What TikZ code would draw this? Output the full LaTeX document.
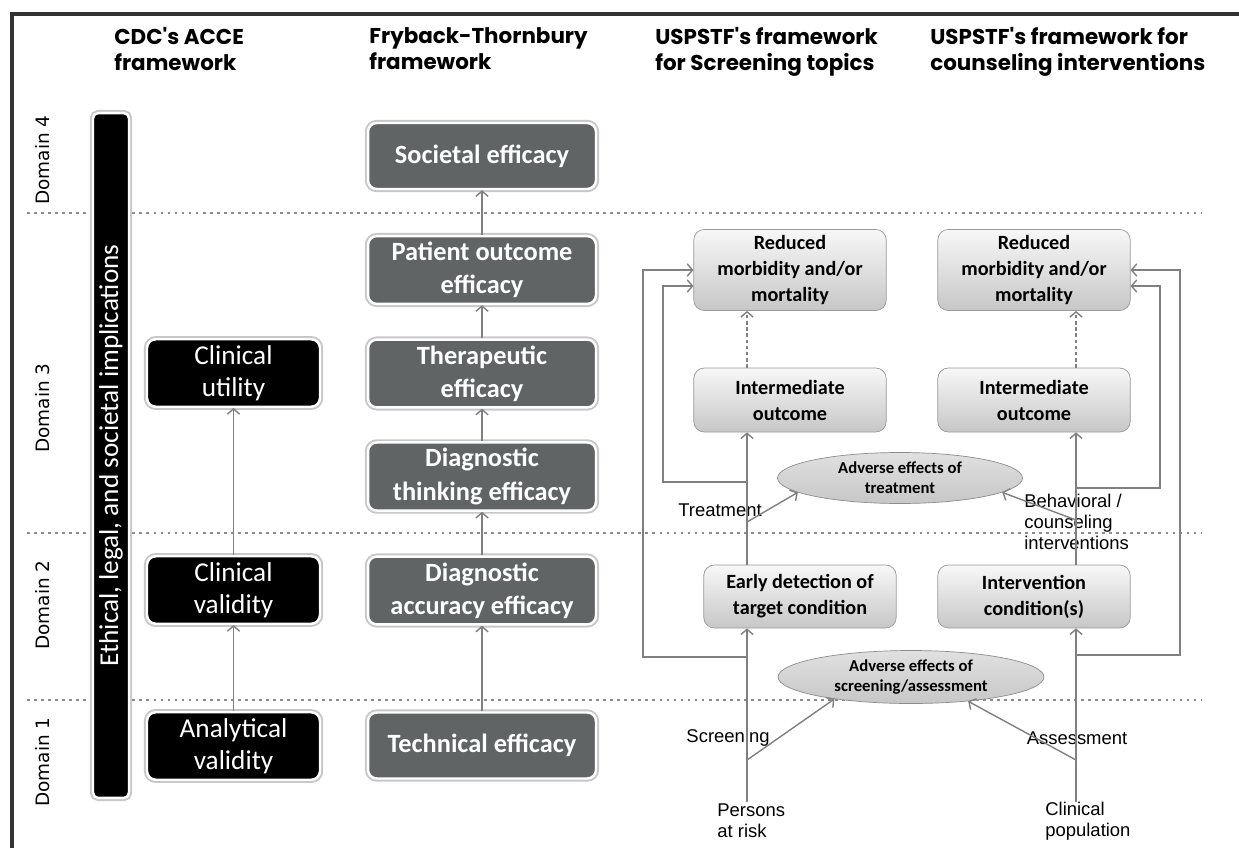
\documentclass[tikz,border=0pt]{standalone}
\usepackage{fontspec}
\setmainfont{Carlito}
\newfontfamily\headfont{Poppins}
\newfontfamily\labfont{Liberation Sans}
\newfontfamily\domfont{DejaVu Sans}
\usetikzlibrary{arrows.meta,shapes.geometric}
\definecolor{fbgray}{RGB}{97,100,100}
\definecolor{linegray}{RGB}{128,128,128}
\tikzset{
	rim/.style={preaction={draw=black!22,line width=3.6pt},draw=white,line width=1.4pt},
	head/.style={anchor=north west,inner sep=0pt,align=left,font=\headfont\bfseries\fontsize{12.2}{14.8}\selectfont},
	domlab/.style={rotate=90,inner sep=0pt,font=\domfont\fontsize{10.5}{12}\selectfont},
	sepline/.style={draw=black!45,line width=1.3pt,dash pattern=on 1.6pt off 2.4pt},
	accebox/.style={rim,rectangle,rounded corners=5pt,fill=black,text=white,align=center,minimum width=3.46cm,minimum height=1.32cm,font=\fontsize{15.5}{18.5}\selectfont},
	frybox/.style={rim,rectangle,rounded corners=5pt,fill=fbgray,text=white,align=center,minimum width=4.56cm,minimum height=1.32cm,font=\bfseries\fontsize{15}{19}\selectfont},
	uspbox/.style={rectangle,rounded corners=6pt,draw=black!40,top color=black!3,bottom color=black!22,align=center,minimum width=3.85cm,font=\bfseries\fontsize{11.5}{14.8}\selectfont},
	adverse/.style={ellipse,draw=black!45,top color=black!12,bottom color=black!22,inner sep=0pt,align=center,font=\bfseries\fontsize{9.5}{11.4}\selectfont},
	flowlab/.style={inner sep=0pt,align=left,font=\labfont\fontsize{10.5}{12}\selectfont},
	arr/.style={draw=linegray,line width=0.8pt,-{Straight Barb[length=3pt,width=7pt]}},
	dotarr/.style={arr,dash pattern=on 2pt off 1.5pt}
}
\begin{document}
\begin{tikzpicture}[x=0.02cm,y=-0.02cm]
	\useasboundingbox (0,0) rectangle (1239,848);
	\draw[black!80,line width=1.8pt] (12,848) -- (12,14) -- (1239,14);
	\foreach \yy in {213,533,700}
		\draw[sepline] (27,\yy) -- (1202,\yy);

	\node (head1)[head] at (114,27) {CDC's ACCE\\framework};
	\node (head2)[head] at (369,27) {Fryback-Thornbury\\framework};
	\node (head3)[head] at (655,27) {USPSTF's framework\\for Screening topics};
	\node (head4)[head] at (930,27) {USPSTF's framework for\\counseling interventions};

	\node (domain4)[domlab] at (43,160) {Domain 4};
	\node (domain3)[domlab] at (43,408) {Domain 3};
	\node (domain2)[domlab] at (43,605) {Domain 2};
	\node (domain1)[domlab] at (43,762) {Domain 1};

	\node (ethics)[rim,rectangle,rounded corners=3pt,fill=black,text=white,rotate=90,inner sep=0pt,minimum width=13.7cm,minimum height=0.72cm,font=\fontsize{15.5}{18}\selectfont] at (111,455.5) {Ethical, legal, and societal implications};

	\node (acce1)[accebox] at (233.5,373) {Clinical\\utility};
	\node (acce2)[accebox] at (233.5,590) {Clinical\\validity};
	\node (acce3)[accebox] at (233.5,746) {Analytical\\validity};
	\draw[arr] (acce3) -- (acce2);
	\draw[arr] (acce2) -- (acce1);

	\node (fryback1)[frybox] at (482,156) {Societal efficacy};
	\node (fryback2)[frybox] at (482,270) {Patient outcome\\efficacy};
	\node (fryback3)[frybox] at (482,373.5) {Therapeutic\\efficacy};
	\node (fryback4)[frybox] at (482,476.5) {Diagnostic\\thinking efficacy};
	\node (fryback5)[frybox] at (482,590.5) {Diagnostic\\accuracy efficacy};
	\node (fryback6)[frybox] at (482,745.5) {Technical efficacy};
	\foreach \a/\b in {6/5,5/4,4/3,3/2,2/1}
		\draw[arr] (fryback\a) -- (fryback\b);

	\node (screen1)[uspbox,minimum height=1.48cm] at (790,270) {Reduced\\morbidity and/or\\mortality};
	\node (screen2)[uspbox,minimum height=1.28cm] at (790,400) {Intermediate\\outcome};
	\node (screen3)[uspbox,minimum height=1.26cm] at (800,596.5) {Early detection of\\target condition};
	\node (counsel1)[uspbox,minimum height=1.48cm] at (1034,270) {Reduced\\morbidity and/or\\mortality};
	\node (counsel2)[uspbox,minimum height=1.28cm] at (1034,400) {Intermediate\\outcome};
	\node (counsel3)[uspbox,minimum height=1.26cm] at (1034,596.5) {Intervention\\condition(s)};

	\node (adverse1)[adverse,minimum width=4.9cm,minimum height=1.02cm] at (900,478) {Adverse effects of\\treatment};
	\node (adverse2)[adverse,minimum width=5.32cm,minimum height=1.06cm] at (911,677) {Adverse effects of\\screening/assessment};

	\node (persons)[flowlab,anchor=west] at (717,821) {Persons\\at risk};
	\node (clinical)[flowlab,anchor=west] at (1045,821) {Clinical\\population};
	\node (screening)[flowlab] at (728,738) {Screening};
	\node (assessment)[flowlab] at (1077,738) {Assessment};
	\node (treatment)[flowlab] at (720,510) {Treatment};
	\node (behavioral)[flowlab,anchor=west] at (1024,522) {Behavioral /\\counseling\\interventions};

	\coordinate (sx) at (747,802);
	\coordinate (cx) at (1076,802);
	\coordinate (fork1) at (747,760);
	\coordinate (fork2) at (747,522);
	\coordinate (fork3) at (1076,760);
	\coordinate (fork4) at (1076,520);
	\coordinate (loop1) at (747,657);
	\coordinate (loop2) at (747,482);
	\coordinate (loop3) at (1076,655);
	\coordinate (loop4) at (1076,488);

	\draw[arr] (sx) -- (sx |- screen3.south);
	\draw[arr] (sx |- screen3.north) -- (sx |- screen2.south);
	\draw[dotarr] (sx |- screen2.north) -- (sx |- screen1.south);
	\draw[arr] (fork1) -- (adverse2.196);
	\draw[arr] (fork2) -- (adverse1.188);
	\draw[arr] (loop1) -- ++(-104,0) |- (screen1.west);
	\draw[arr] (loop2) -- ++(-84,0) |- ([yshift=-0.32cm]screen1.west);

	\draw[arr] (cx) -- (cx |- counsel3.south);
	\draw[arr] (cx |- counsel3.north) -- (cx |- counsel2.south);
	\draw[dotarr] (cx |- counsel2.north) -- (cx |- counsel1.south);
	\draw[arr] (fork3) -- (adverse2.-23);
	\draw[arr] (fork4) -- (adverse1.-8);
	\draw[arr] (loop3) -- ++(104,0) |- (counsel1.east);
	\draw[arr] (loop4) -- ++(84,0) |- ([yshift=-0.32cm]counsel1.east);
\end{tikzpicture}
\end{document}
